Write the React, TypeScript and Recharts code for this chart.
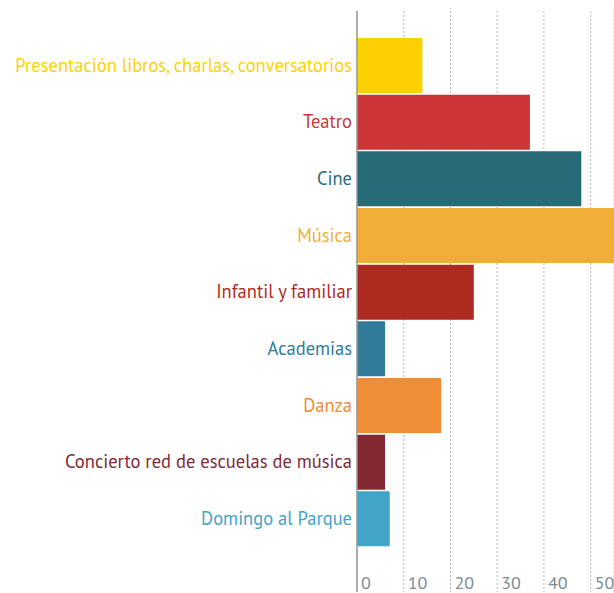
import React from 'react';
import { BarChart, Bar, XAxis, YAxis, CartesianGrid, Cell } from 'recharts';

const categories = [
  'Presentación libros, charlas, conversatorios',
  'Teatro',
  'Cine',
  'Música',
  'Infantil y familiar',
  'Academias',
  'Danza',
  'Concierto red de escuelas de música',
  'Domingo al Parque',
];
const values = [14, 37, 48, 56, 25, 6, 18, 6, 7];
const colors = [
  '#FFD000',
  '#CC3535',
  '#286B78',
  '#F0AE36',
  '#AD2A20',
  '#2F7B98',
  '#F08C36',
  '#812833',
  '#42A4C8',
];
const xTicks = [0, 10, 20, 30, 40, 50];

const FONT = "'PT Sans', 'Liberation Sans Narrow', 'DejaVu Sans Condensed', Lato, sans-serif";

const data = categories.map((name, i) => ({ name, value: values[i], color: colors[i] }));

const renderCategoryTick = (props: any) => {
  const { x, y, payload } = props;
  const idx = categories.indexOf(payload.value);
  return (
    <text
      x={x - 5}
      y={y}
      dy="0.35em"
      textAnchor="end"
      fill={colors[idx]}
      fontFamily={FONT}
      fontSize={18.5}
    >
      {payload.value}
    </text>
  );
};

const renderValueTick = (props: any) => {
  const { x, payload } = props;
  return (
    <text x={x + 4} y={589} textAnchor="start" fill="#7d8b98" fontFamily={FONT} fontSize={18}>
      {payload.value}
    </text>
  );
};

export default function App() {
  return (
    <div style={{ position: 'absolute', left: 0, top: 0, background: '#fff' }}>
      <BarChart
        width={614}
        height={593}
        data={data}
        layout="vertical"
        margin={{ top: 11, right: 0, bottom: 0, left: 0 }}
      >
        <CartesianGrid horizontal={false} stroke="#b5b5b5" strokeDasharray="2 2" />
        <XAxis
          type="number"
          domain={[0, 55]}
          ticks={xTicks}
          allowDataOverflow
          height={1}
          axisLine={false}
          tickLine={false}
          tickSize={0}
          tick={renderValueTick}
          interval={0}
        />
        <YAxis
          type="category"
          dataKey="name"
          width={357}
          padding={{ top: 26, bottom: 45 }}
          axisLine={{ stroke: '#999', strokeWidth: 1.5 }}
          tickLine={false}
          tickSize={0}
          tickMargin={0}
          tick={renderCategoryTick}
          interval={0}
        />
        <Bar dataKey="value" barSize={55} isAnimationActive={false}>
          {data.map((d) => (
            <Cell key={d.name} fill={d.color} />
          ))}
        </Bar>
      </BarChart>
    </div>
  );
}
